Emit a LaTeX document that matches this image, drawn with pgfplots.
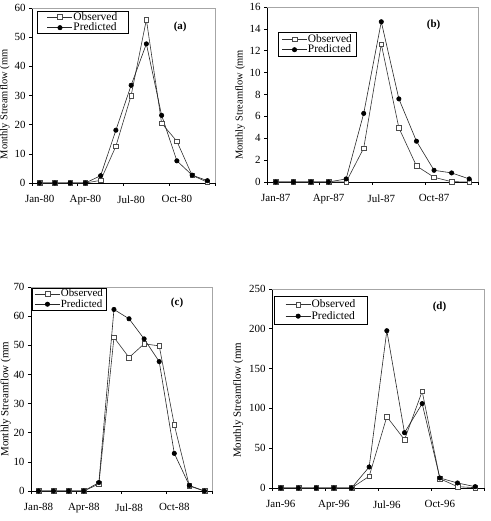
\documentclass[border=0pt]{standalone}
\usepackage{fontspec}
\setmainfont{Liberation Serif}
\usepackage{pgfplots}
\pgfplotsset{compat=1.18}

\pgfplotsset{
  panel/.style={
    scale only axis,
    anchor=south west,
    xmin=0.5, xmax=12.5,
    ymin=0,
    xtick={1,4,7,10},
    minor xtick={0.5,3.5,6.5,9.5,12.5},
    axis lines*=left,
    axis line style={black, line width=0.6pt},
    tick align=outside,
    major tick length=3bp,
    minor tick length=3bp,
    major x tick style={draw=none},
    minor x tick style={black, line width=0.6pt},
    y tick style={black, line width=0.6pt},
    /pgf/number format/assume math mode=true,
    tick label style={font=\fontsize{11}{13}\selectfont},
    xticklabel style={yshift=-6bp},
    ylabel={Monthly Streamflow (mm},
    ylabel style={anchor=center, font=\fontsize{10.5}{12}\selectfont},
    clip=false,
    legend cell align=left,
    legend style={anchor=north west, draw=black, line width=0.5pt,
      font=\fontsize{11.5}{12}\selectfont, inner ysep=0.5pt, row sep=0pt,
      nodes={inner sep=0.6pt}},
    legend image code/.code={\draw[mark repeat=2,mark phase=2,#1]
      plot coordinates {(0bp,0bp) (12.5bp,0bp) (25bp,0bp)};},
  },
  obs/.style={color=black!80, line width=0.6pt, mark=square*,
    mark size=2.3bp, mark options={fill=white, draw=black!70, line width=0.5pt}},
  pred/.style={color=black!85, line width=0.6pt, mark=*,
    mark size=2.2bp, mark options={fill=black, draw=black}},
}
\newcommand{\frameaxis}{\draw[black!35, line width=0.6pt] (rel axis cs:0,1) -- (rel axis cs:1,1) -- (rel axis cs:1,0);}

\begin{document}
\begin{tikzpicture}
\useasboundingbox (0,0) rectangle (491bp,521bp);

% (a)
\begin{axis}[panel, at={(32bp,338bp)}, width=183bp, height=175bp,
  ymax=60, ytick={0,10,20,30,40,50,60},
  xticklabels={Jan-80,Apr-80,Jul-80,Oct-80},
  ylabel style={at={(rel axis cs:-0.148,0.45)}},
  legend style={at={(rel axis cs:0.027,0.983)}, inner xsep=10bp}]
\frameaxis
\addplot[obs] coordinates {(1,0) (2,0) (3,0) (4,0) (5,0.9) (6,12.6) (7,30) (8,56) (9,20.5) (10,14.3) (11,2.6) (12,0.3)};
\addplot[pred] coordinates {(1,0) (2,0) (3,0) (4,0) (5,2.5) (6,18.1) (7,33.5) (8,47.7) (9,23.2) (10,7.6) (11,2.7) (12,0.8)};
\legend{Observed,Predicted}
\node[font=\bfseries\fontsize{11}{12}\selectfont] at (rel axis cs:0.81,0.89) {(a)};
\end{axis}

% (b)
\begin{axis}[panel, at={(267bp,339bp)}, width=211bp, height=175bp,
  ymax=16, ytick={0,2,4,6,8,10,12,14,16},
  xticklabels={Jan-87,Apr-87,Jul-87,Oct-87},
  ylabel style={at={(rel axis cs:-0.128,0.44)}},
  legend style={at={(rel axis cs:0.052,0.857)}, inner xsep=3.5bp, inner ysep=1.5pt}]
\frameaxis
\addplot[obs] coordinates {(1,0) (2,0) (3,0) (4,0) (5,0) (6,3.1) (7,12.6) (8,4.95) (9,1.47) (10,0.43) (11,0.03) (12,0)};
\addplot[pred] coordinates {(1,0) (2,0) (3,0) (4,0) (5,0.28) (6,6.27) (7,14.65) (8,7.6) (9,3.73) (10,1.07) (11,0.83) (12,0.28)};
\legend{Observed,Predicted}
\node[font=\bfseries\fontsize{11}{12}\selectfont] at (rel axis cs:0.79,0.90) {(b)};
\end{axis}

% (c)
\begin{axis}[panel, at={(31bp,30bp)}, width=181bp, height=204bp,
  ymax=70, ytick={0,10,20,30,40,50,60,70},
  xticklabels={Jan-88,Apr-88,Jul-88,Oct-88},
  ylabel style={at={(rel axis cs:-0.14,0.45)}, font=\fontsize{11}{12}\selectfont},
  legend style={at={(rel axis cs:0.005,0.995)}, font=\fontsize{11}{12}\selectfont, inner xsep=2.5bp}]
\frameaxis
\addplot[obs] coordinates {(1,0) (2,0) (3,0) (4,0) (5,2.4) (6,52.7) (7,45.8) (8,50.5) (9,49.8) (10,22.7) (11,1.7) (12,0)};
\addplot[pred] coordinates {(1,0) (2,0) (3,0) (4,0) (5,2.9) (6,62.3) (7,59.1) (8,52.2) (9,44.4) (10,12.9) (11,1.9) (12,0)};
\legend{Observed,Predicted}
\node[font=\bfseries\fontsize{11}{12}\selectfont] at (rel axis cs:0.807,0.92) {(c)};
\end{axis}

% (d)
\begin{axis}[panel, at={(272bp,33bp)}, width=212bp, height=199bp,
  ymax=250, ytick={0,50,100,150,200,250},
  xticklabels={Jan-96,Apr-96,Jul-96,Oct-96},
  ylabel style={at={(rel axis cs:-0.16,0.44)}, font=\fontsize{11}{12}\selectfont},
  legend style={at={(rel axis cs:0.01,0.965)}, inner xsep=11bp, inner ysep=3pt, row sep=1pt}]
\frameaxis
\addplot[obs] coordinates {(1,0) (2,0) (3,0) (4,0) (5,0) (6,14.7) (7,89.6) (8,60.7) (9,121.4) (10,11.7) (11,1.7) (12,0.4)};
\addplot[pred] coordinates {(1,0) (2,0) (3,0) (4,0) (5,0) (6,26.4) (7,197.6) (8,69.5) (9,106) (10,12.6) (11,6.3) (12,1.7)};
\legend{Observed,Predicted}
\node[font=\bfseries\fontsize{11}{12}\selectfont] at (rel axis cs:0.79,0.91) {(d)};
\end{axis}
\end{tikzpicture}
\end{document}
